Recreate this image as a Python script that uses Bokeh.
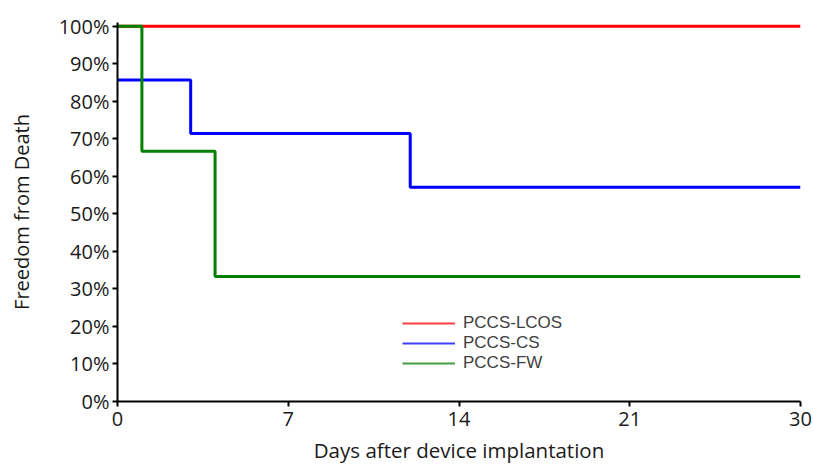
from bokeh.plotting import figure
from bokeh.models import Range1d, FixedTicker, NumeralTickFormatter, Legend, LegendItem
from bokeh.embed import file_html
from bokeh.resources import INLINE

# ---- data (days after implantation, freedom from death) ----
lcos_days = [0, 30]
lcos_surv = [1.0, 1.0]
cs_days = [0, 3, 12, 30]
cs_surv = [0.857, 0.714, 0.571, 0.571]
fw_days = [0, 1, 4, 30]
fw_surv = [1.0, 0.667, 0.333, 0.333]
series_names = ["PCCS-LCOS", "PCCS-CS", "PCCS-FW"]
x_ticks = [0, 7, 14, 21, 30]
y_ticks = [0.0, 0.1, 0.2, 0.3, 0.4, 0.5, 0.6, 0.7, 0.8, 0.9, 1.0]
x_title = "Days after device implantation"
y_title = "Freedom from Death"

# the original axis places its ticks evenly (0-21 and 21-30 share equal spacing)
def axis_pos(d):
    return d * 7.5 / 7 if d <= 21 else 22.5 + (d - 21) * 7.5 / 9

def tx(days):
    return [axis_pos(d) for d in days]

FONT = "Open Sans"
p = figure(width=812, height=466, output_backend="svg", toolbar_location=None,
           x_range=Range1d(0, 30), y_range=Range1d(0, 1.01),
           min_border_left=117, min_border_right=12, min_border_top=22, min_border_bottom=65)
p.outline_line_color = None
p.grid.visible = False
p.background_fill_color = "white"
p.border_fill_color = "white"

colors = ["#ff0000", "#0000ff", "#008000"]
p.step(tx(lcos_days), lcos_surv, mode="after", line_color=colors[0], line_width=3)
p.step(tx(cs_days), cs_surv, mode="after", line_color=colors[1], line_width=3)
p.step(tx(fw_days), fw_surv, mode="after", line_color=colors[2], line_width=3)

# legend entries (thinner lines like the original key)
nan = float("nan")
items = []
for name, c in zip(series_names, colors):
    r = p.line([nan, nan], [nan, nan], line_color=c, line_width=2, line_alpha=0.75)
    items.append(LegendItem(label=name, renderers=[r]))
legend = Legend(items=items, location=(285, 28), padding=0, margin=0, spacing=0,
                glyph_width=53, glyph_height=20, label_height=20, label_standoff=8,
                border_line_color=None, background_fill_alpha=0,
                label_text_font="Liberation Sans", label_text_font_size="17px",
                label_text_color="#404040")
p.add_layout(legend, "center")

# axes
xa = p.xaxis[0]
xa.ticker = FixedTicker(ticks=[axis_pos(t) for t in x_ticks])
xa.major_label_overrides = {axis_pos(t): str(t) for t in x_ticks}
xa.axis_label = x_title

ya = p.yaxis[0]
ya.ticker = FixedTicker(ticks=y_ticks)
ya.formatter = NumeralTickFormatter(format="0%")
ya.axis_label = y_title

for ax in (xa, ya):
    ax.axis_line_color = "black"
    ax.axis_line_width = 2
    ax.major_tick_line_color = "black"
    ax.major_tick_line_width = 2
    ax.major_tick_in = 0
    ax.major_tick_out = 5
    ax.minor_tick_line_color = None
    ax.major_label_text_font = FONT
    ax.major_label_text_font_size = "20px"
    ax.major_label_text_color = "#1a1a1a"
    ax.axis_label_text_font = FONT
    ax.axis_label_text_font_size = "20px"
    ax.axis_label_text_font_style = "normal"
    ax.axis_label_text_color = "#1a1a1a"

ya.major_label_standoff = 3
xa.major_label_standoff = 5
ya.axis_label_standoff = 21
xa.axis_label_standoff = 7
xa.axis_label_text_font_size = "20.5px"

open("out.html", "w").write(file_html(p, INLINE))
